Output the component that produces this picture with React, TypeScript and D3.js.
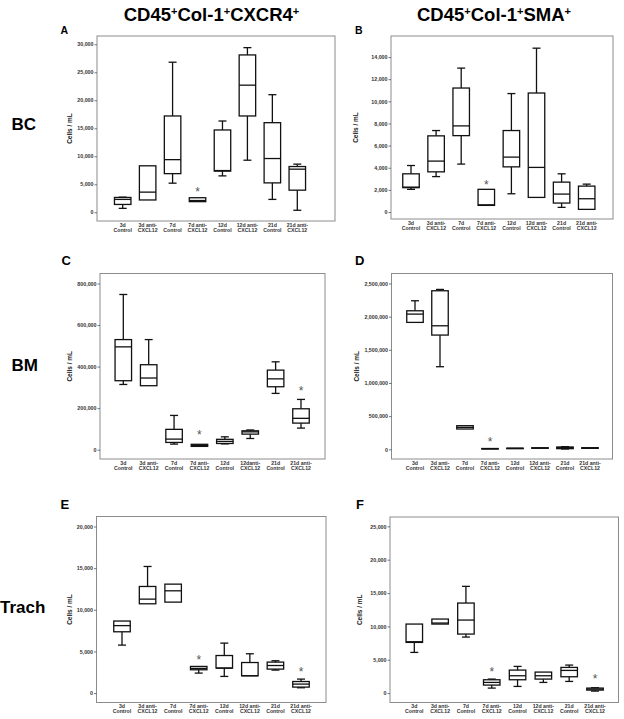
import React, { useEffect, useRef } from 'react';
import * as d3 from 'd3';

// box stats: [min, q1, median, q3, max]
type Box = [number, number, number, number, number];

const categories = [
  ['3d', 'Control'], ['3d anti-', 'CXCL12'], ['7d', 'Control'], ['7d anti-', 'CXCL12'],
  ['12d', 'Control'], ['12d anti-', 'CXCL12'], ['21d', 'Control'], ['21d anti-', 'CXCL12'],
];
const categoriesC = categories.map((c, i) => (i === 5 ? ['12danti-', 'CXCL12'] : c));

const bcCxcr4: Box[] = [
  [700, 1400, 2300, 2650, 2700],
  [2200, 2200, 3600, 8300, 8300],
  [5200, 6900, 9400, 17200, 26800],
  [1900, 1900, 2100, 2600, 2600],
  [6500, 7350, 7450, 14700, 16300],
  [9300, 17200, 22700, 28100, 29400],
  [2300, 5250, 9600, 16000, 21000],
  [360, 3950, 7700, 8170, 8600],
];
const bcCxcr4Stars: [number, number][] = [[3, 4000]];

const bcSma: Box[] = [
  [2050, 2200, 2250, 3450, 4200],
  [3200, 3630, 4600, 6880, 7360],
  [4330, 6900, 7780, 11200, 13000],
  [600, 600, 650, 2050, 2050],
  [1650, 4080, 4960, 7360, 10700],
  [1320, 1320, 4030, 10750, 14800],
  [420, 810, 1620, 2700, 3450],
  [240, 240, 1200, 2340, 2520],
];
const bcSmaStars: [number, number][] = [[3, 2700]];

const bmCxcr4: Box[] = [
  [314000, 332000, 495000, 530000, 747000],
  [308000, 308000, 345000, 409000, 530000],
  [27000, 35000, 51000, 98000, 165000],
  [16000, 16000, 21000, 26000, 26000],
  [28000, 30000, 40000, 50000, 62000],
  [54000, 75000, 86000, 91000, 95000],
  [271000, 303000, 341000, 383000, 423000],
  [104000, 128000, 151000, 197000, 242000],
];
const bmCxcr4Stars: [number, number][] = [[3, 82000], [7, 293000]];

const bmSma: Box[] = [
  [1913000, 1913000, 2038000, 2088000, 2239000],
  [1245000, 1722000, 1862000, 2390000, 2410000],
  [306000, 306000, 331000, 356000, 356000],
  [5000, 5000, 8000, 12000, 12000],
  [13000, 13000, 15000, 17000, 17000],
  [17000, 17000, 20000, 23000, 23000],
  [5000, 10000, 25000, 35000, 40000],
  [15000, 15000, 20000, 24000, 24000],
];
const bmSmaStars: [number, number][] = [[3, 155000]];

const trCxcr4: Box[] = [
  [5760, 7360, 8100, 8650, 8650],
  [10720, 10720, 11280, 12800, 15200],
  [10920, 10920, 12280, 13080, 13080],
  [2400, 2800, 2960, 3200, 3200],
  [2000, 3000, 3000, 4510, 6000],
  [2080, 2080, 2080, 3670, 4720],
  [2760, 2880, 3310, 3720, 3880],
  [640, 720, 1080, 1390, 1680],
];
const trCxcr4Stars: [number, number][] = [[3, 4300], [7, 2880]];

const trSma: Box[] = [
  [6100, 7600, 7700, 10350, 10350],
  [10350, 10350, 10500, 11100, 11100],
  [8400, 8850, 10950, 13500, 16000],
  [750, 1200, 1600, 2000, 2100],
  [1000, 2000, 2600, 3450, 4000],
  [1600, 2100, 2600, 3150, 3150],
  [1750, 2450, 3400, 3850, 4200],
  [300, 450, 600, 750, 800],
];
const trSmaStars: [number, number][] = [[3, 3550], [7, 2500]];

const ticksA = [0, 5000, 10000, 15000, 20000, 25000, 30000];
const ticksB = [0, 2000, 4000, 6000, 8000, 10000, 12000, 14000];
const ticksC = [0, 200000, 400000, 600000, 800000];
const ticksD = [0, 500000, 1000000, 1500000, 2000000, 2500000];
const ticksE = [0, 5000, 10000, 15000, 20000];
const ticksF = [0, 5000, 10000, 15000, 20000, 25000];

const panels = [
  { id: 'A', data: bcCxcr4, stars: bcCxcr4Stars, ticks: ticksA, labels: categories,
    frame: { x: 97, y: 36, w: 238, h: 185 }, domain: [-1556, 31480], xr: [122.7, 297.3],
    letter: { x: 60.5, y: 33.5, size: 10.5 }, ylab: 69.5 },
  { id: 'B', data: bcSma, stars: bcSmaStars, ticks: ticksB, labels: categories,
    frame: { x: 391, y: 36, w: 222, h: 183 }, domain: [-630, 15900], xr: [411, 586.7],
    letter: { x: 355, y: 34.3, size: 10.5 }, ylab: 355.5 },
  { id: 'C', data: bmCxcr4, stars: bmCxcr4Stars, ticks: ticksC, labels: categoriesC,
    frame: { x: 100, y: 273.5, w: 225, h: 185.5 }, domain: [-44700, 848000], xr: [123.3, 301],
    letter: { x: 61.5, y: 265, size: 13 }, ylab: 70 },
  { id: 'D', data: bmSma, stars: bmSmaStars, ticks: ticksD, labels: categories,
    frame: { x: 391.5, y: 273.5, w: 221, h: 185.5 }, domain: [-146000, 2650000], xr: [415, 590],
    letter: { x: 355, y: 265, size: 13 }, ylab: 357 },
  { id: 'E', data: trCxcr4, stars: trCxcr4Stars, ticks: ticksE, labels: categories,
    frame: { x: 96.5, y: 516.5, w: 229.5, h: 186 }, domain: [-1130, 21200], xr: [122, 301],
    letter: { x: 60.5, y: 508.5, size: 13 }, ylab: 69.5 },
  { id: 'F', data: trSma, stars: trSmaStars, ticks: ticksF, labels: categories,
    frame: { x: 390, y: 517, w: 228.5, h: 185.5 }, domain: [-1410, 26400], xr: [414.3, 595],
    letter: { x: 356, y: 508.5, size: 13 }, ylab: 360 },
];

const titles = [
  { x: 211.5, parts: ['CD45', '+', 'Col-1', '+', 'CXCR4', '+'] },
  { x: 494, parts: ['CD45', '+', 'Col-1', '+', 'SMA', '+'] },
];
const rowLabels = [
  { text: 'BC', y: 130 },
  { text: 'BM', y: 371 },
  { text: 'Trach', y: 613 },
];

const FONT = '"Liberation Sans", Arial, Helvetica, sans-serif';

const App: React.FC = () => {
  const svgRef = useRef<SVGSVGElement>(null);

  useEffect(() => {
    if (!svgRef.current) return;
    const svg = d3.select(svgRef.current);
    svg.selectAll('*').remove();

    svg.append('rect').attr('width', 624).attr('height', 719).attr('fill', '#fff');

    // column titles
    titles.forEach(t => {
      const txt = svg.append('text')
        .attr('x', t.x).attr('y', 20.5)
        .attr('text-anchor', 'middle')
        .attr('font-family', FONT).attr('font-weight', 'bold')
        .attr('font-size', 18.5).attr('fill', '#000');
      t.parts.forEach(p => {
        if (p === '+') {
          txt.append('tspan').attr('font-size', 11).attr('dy', -6).text(p);
        } else {
          const ts = txt.append('tspan').text(p);
          if (p !== t.parts[0]) ts.attr('dy', 6);
        }
      });
    });

    // row labels
    rowLabels.forEach(r => {
      svg.append('text')
        .attr('x', r.text === 'Trach' ? 0 : 11.5).attr('y', r.y)
        .attr('font-family', FONT).attr('font-weight', 'bold')
        .attr('font-size', 17).attr('fill', '#000')
        .text(r.text);
    });

    panels.forEach(p => {
      const g = svg.append('g');
      const { x, y, w, h } = p.frame;

      const yScale = d3.scaleLinear().domain(p.domain).range([y + h, y]);
      const xScale = d3.scalePoint<number>()
        .domain(d3.range(p.data.length))
        .range(p.xr as [number, number]);

      // panel letter
      g.append('text')
        .attr('x', p.letter.x).attr('y', p.letter.y)
        .attr('font-family', FONT).attr('font-weight', 'bold')
        .attr('font-size', p.letter.size).attr('fill', '#000')
        .text(p.id);

      // frame
      g.append('rect')
        .attr('x', x).attr('y', y).attr('width', w).attr('height', h)
        .attr('fill', 'none').attr('stroke', '#8c8c8c').attr('stroke-width', 1);

      // y axis ticks
      const yAxis = g.append('g')
        .attr('transform', `translate(${x},0)`)
        .call(d3.axisLeft(yScale).tickValues(p.ticks).tickSize(2.5).tickPadding(1).tickFormat(d3.format(',') as any));
      yAxis.select('.domain').remove();
      yAxis.selectAll('.tick line').attr('stroke', '#555').attr('stroke-width', 0.8);
      yAxis.selectAll('.tick text')
        .attr('font-family', FONT).attr('font-weight', 'bold')
        .attr('font-size', 5.3).attr('fill', '#333');

      // y label
      g.append('text')
        .attr('transform', `translate(${p.ylab},${y + h / 2}) rotate(-90)`)
        .attr('text-anchor', 'middle').attr('dy', '0.35em')
        .attr('font-family', FONT).attr('font-weight', 'bold')
        .attr('font-size', 6.5).attr('fill', '#222')
        .text('Cells / mL');

      // category labels
      p.labels.forEach((lab, i) => {
        const t = g.append('text')
          .attr('x', xScale(i)!).attr('y', y + h + 5.5)
          .attr('text-anchor', 'middle')
          .attr('font-family', FONT).attr('font-weight', 'bold')
          .attr('font-size', 5.2).attr('fill', '#333');
        t.append('tspan').attr('x', xScale(i)!).text(lab[0]);
        t.append('tspan').attr('x', xScale(i)!).attr('dy', 5).text(lab[1]);
      });

      const bw = 16.5;
      const cw = 8;
      p.data.forEach((d, i) => {
        const cx = xScale(i)!;
        const [mn, q1, md, q3, mx] = d;
        const bx = g.append('g').attr('stroke', '#111').attr('stroke-width', 1.3).attr('fill', 'none');
        // whiskers
        if (mx > q3) {
          bx.append('line').attr('x1', cx).attr('x2', cx).attr('y1', yScale(q3)).attr('y2', yScale(mx));
          bx.append('line').attr('x1', cx - cw / 2).attr('x2', cx + cw / 2).attr('y1', yScale(mx)).attr('y2', yScale(mx));
        }
        if (mn < q1) {
          bx.append('line').attr('x1', cx).attr('x2', cx).attr('y1', yScale(q1)).attr('y2', yScale(mn));
          bx.append('line').attr('x1', cx - cw / 2).attr('x2', cx + cw / 2).attr('y1', yScale(mn)).attr('y2', yScale(mn));
        }
        bx.append('rect')
          .attr('x', cx - bw / 2).attr('y', yScale(q3))
          .attr('width', bw).attr('height', Math.max(0.5, yScale(q1) - yScale(q3)))
          .attr('fill', '#fff');
        bx.append('line').attr('x1', cx - bw / 2).attr('x2', cx + bw / 2).attr('y1', yScale(md)).attr('y2', yScale(md));
      });

      p.stars.forEach(([i, v]) => {
        g.append('text')
          .attr('x', xScale(i)!).attr('y', yScale(v) + 6.5)
          .attr('text-anchor', 'middle')
          .attr('font-family', FONT).attr('font-size', 12).attr('fill', '#555')
          .text('*');
      });
    });
  }, []);

  return (
    <svg ref={svgRef} width={624} height={719}
      style={{ position: 'absolute', left: 0, top: 0, display: 'block' }} />
  );
};

export default App;
